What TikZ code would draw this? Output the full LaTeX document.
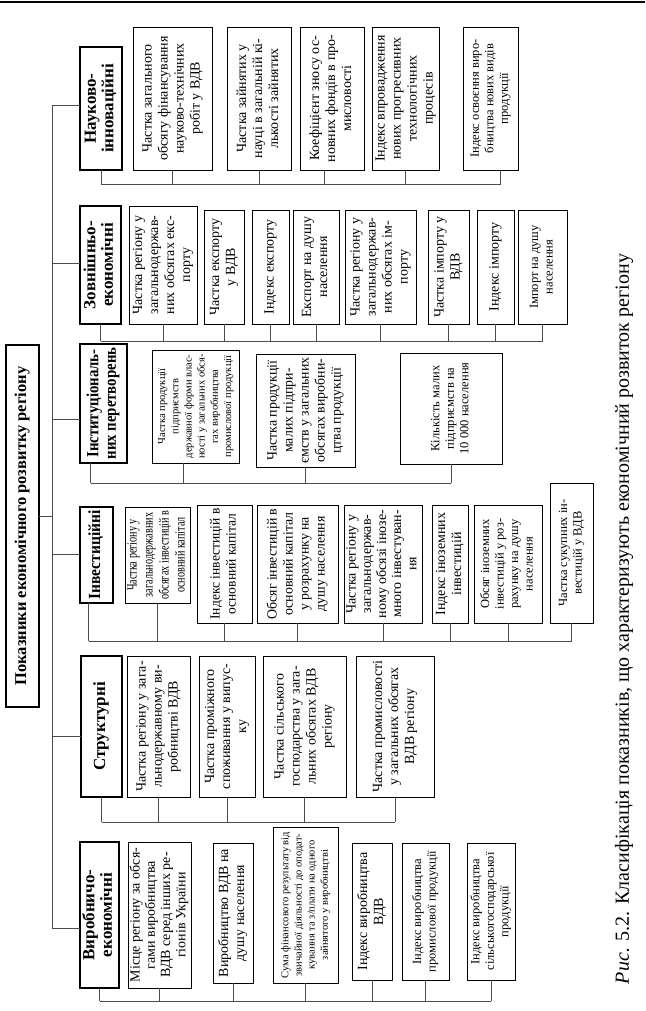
\documentclass[tikz,border=0pt]{standalone}
\usepackage{fontspec}
\setmainfont{Liberation Serif}
\usepackage{graphicx}
\newsavebox\fitsbox
\newcommand\fitto[2]{\sbox\fitsbox{#2}\ifdim\wd\fitsbox>#1\relax\resizebox{#1}{\height}{\usebox\fitsbox}\else\usebox\fitsbox\fi}
\newcommand\fnorm{\fontsize{14}{16}\selectfont}
\newcommand\fnormt{\fontsize{14}{15.2}\selectfont}
\newcommand\fsmall{\fontsize{12.5}{14.5}\selectfont}
\newcommand\ftiny{\fontsize{10.5}{13.2}\selectfont}
\newcommand\fcat{\fontsize{17}{17.5}\selectfont\bfseries}
\newcommand\fmain{\fontsize{16.5}{18}\selectfont\bfseries}
\newcommand\fcap{\fontsize{20}{22}\selectfont}
\newcommand\bx[8]{\node[#6, rotate=90, minimum width={#5pt-#3pt}, minimum height={#4pt-#2pt}] (#1) at ({(#2+#4)/2},{(#3+#5)/2}) {\fitto{\dimexpr #5pt-#3pt-7pt\relax}{#7\begin{tabular}{@{}c@{}}#8\end{tabular}}};}
\tikzset{
  box/.style={draw=black, line width=0.9pt, inner sep=0pt, outer sep=0pt},
  catbox/.style={box, line width=1.1pt},
  mainbox/.style={box, line width=1.3pt},
  conn/.style={draw=black!70, line width=1pt},
}
\begin{document}
\begin{tikzpicture}[x=1pt, y=-1pt]
\useasboundingbox (0,0) rectangle (645,1011);
\draw[line width=2.5pt] (0,2) -- (645,2);
% main
\bx{main}{6}{345}{39}{707}{mainbox}{\fmain}{Показники економічного розвитку регіону}
% group 1
\bx{cat1}{80}{47}{122}{170}{catbox}{\fcat}{Науково-\\інноваційні}
\bx{c11}{133}{27}{212}{170}{box}{\fnorm}{Частка загального\\обсягу фінансування\\науково-технічних\\робіт у ВДВ}
\bx{c12}{227}{27}{291}{170}{box}{\fnorm}{Частка зайнятих у\\науці в загальній кі-\\лькості зайнятих}
\bx{c13}{300}{27}{364}{170}{box}{\fnorm}{Коефіцієнт зносу ос-\\новних фондів в про-\\мисловості}
\bx{c14}{372}{27}{439}{170}{box}{\fnorm}{Індекс впровадження\\нових прогресивних\\технологічних\\процесів}
\bx{c15}{463}{27}{518}{170}{box}{\fsmall}{Індекс освоєння виро-\\бництва нових видів\\продукції}
% group 2
\bx{cat2}{80}{206}{121}{324}{catbox}{\fcat}{Зовнішньо-\\економічні}
\bx{c21}{129}{206}{197}{324}{box}{\fnorm}{Частка регіону у\\загальнодержав-\\них обсягах екс-\\порту}
\bx{c22}{204}{210}{244}{324}{box}{\fnorm}{Частка експорту\\у ВДВ}
\bx{c23}{252}{210}{289}{324}{box}{\fnorm}{Індекс експорту}
\bx{c24}{293}{210}{339}{324}{box}{\fnorm}{Експорт на душу\\населення}
\bx{c25}{345}{210}{416}{324}{box}{\fnorm}{Частка регіону у\\загальнодержав-\\них обсягах ім-\\порту}
\bx{c26}{428}{210}{469}{324}{box}{\fnorm}{Частка імпорту у\\ВДВ}
\bx{c27}{477}{210}{514}{324}{box}{\fnorm}{Індекс імпорту}
\bx{c28}{518}{210}{567}{324}{box}{\fsmall}{Імпорт на душу\\населення}
% group 3
\bx{cat3}{80}{344}{127}{463}{catbox}{\fcat}{Інституціональ-\\них перетворень}
\bx{c31}{152}{350}{239}{463}{box}{\ftiny}{Частка продукції\\підприємств\\державної форми влас-\\ності у загальних обся-\\гах виробництва\\промислової продукції}
\bx{c32}{256}{354}{355}{467}{box}{\fnorm}{Частка продукції\\малих підпри-\\ємств у загальних\\обсягах виробни-\\цтва продукції}
\bx{c33}{400}{353}{502}{464}{box}{\fsmall}{Кількість малих\\підприємств на\\10~000 населення}
% group 4
\bx{cat4}{80}{507}{113}{603}{catbox}{\fcat}{Інвестиційні}
\bx{c41}{125}{507}{190}{603}{box}{\fnorm}{Частка регіону у\\загальнодержавних\\обсягах інвестицій в\\основний капітал}
\bx{c42}{197}{505}{252}{623}{box}{\fnorm}{Індекс інвестицій в\\основний капітал}
\bx{c43}{257}{505}{338}{623}{box}{\fnorm}{Обсяг інвестицій в\\основний капітал\\у розрахунку на\\душу населення}
\bx{c44}{344}{505}{422}{623}{box}{\fnormt}{Частка регіону у\\загальнодержав-\\ному обсязі інозе-\\много інвестуван-\\ня}
\bx{c45}{432}{505}{468}{623}{box}{\fnorm}{Індекс іноземних\\інвестицій}
\bx{c46}{474}{505}{542}{623}{box}{\fsmall}{Обсяг іноземних\\інвестицій у роз-\\рахунку на душу\\населення}
\bx{c47}{550}{483}{593}{623}{box}{\fsmall}{Частка сукупних ін-\\вестицій у ВДВ}
% group 5
\bx{cat5}{81}{656}{122}{797}{catbox}{\fcat}{Структурні}
\bx{c51}{127}{656}{190}{797}{box}{\fnorm}{Частка регіону у зага-\\льнодержавному ви-\\робництві ВДВ}
\bx{c52}{199}{656}{255}{797}{box}{\fnorm}{Частка проміжного\\споживання у випус-\\ку}
\bx{c53}{263}{656}{346}{797}{box}{\fnorm}{Частка сільського\\господарства у зага-\\льних обсягах ВДВ\\регіону}
\bx{c54}{356}{656}{434}{797}{box}{\fnorm}{Частка промисловості\\у загальних обсягах\\ВДВ регіону}
% group 6
\bx{cat6}{80}{842}{119}{988}{catbox}{\fcat}{Виробничо-\\економічні}
\bx{c61}{128}{842}{191}{988}{box}{\fnormt}{Місце регіону за обся-\\гами виробництва\\ВДВ серед інших ре-\\гіонів України}
\bx{c62}{213}{843}{253}{983}{box}{\fnorm}{Виробництво ВДВ на\\душу населення}
\bx{c63}{273}{827}{338}{983}{box}{\ftiny}{Сума фінансового результату від\\звичайної діяльності до оподат-\\кування та з/плати на одного\\зайнятого у виробництві}
\bx{c64}{352}{843}{392}{980}{box}{\fnorm}{Індекс виробництва\\ВДВ}
\bx{c65}{402}{843}{449}{980}{box}{\fsmall}{Індекс виробництва\\промислової продукції}
\bx{c66}{467}{843}{515}{980}{box}{\fsmall}{Індекс виробництва\\сільськогосподарської\\продукції}
% caption
\node[rotate=90, font=\fcap, inner sep=0pt] (cap) at (624,619) {\textit{Рис.} 5.2. Класифікація показників, що характеризують економічний розвиток регіону};
% spine
\coordinate (b0) at (52,516);
\coordinate (b1) at (52,106);
\coordinate (b2) at (52,263);
\coordinate (b3) at (52,419);
\coordinate (b4) at (52,554);
\coordinate (b5) at (52,736);
\coordinate (b6) at (52,928);
\draw[conn] (b1) -- (b6);
\draw[conn] (main.south |- b0) -- (b0);
\foreach \i in {1,...,6} {\draw[conn] (b\i) -- (b\i -| cat\i.north);}
% buses
\coordinate (bus1) at (0,185);
\coordinate (bus2) at (0,341);
\coordinate (bus3) at (0,483);
\coordinate (bus4) at (0,641);
\coordinate (bus5) at (0,822);
\coordinate (bus6) at (0,1001);
% group 1
\foreach \n in {cat1,c11,c12,c14} {\draw[conn] (\n.west) -- (\n.west |- bus1);}
\draw[conn] ([xshift=-8pt]c13.west) -- ([xshift=-8pt]c13.west |- bus1);
\draw[conn] ([xshift=10pt]c15.west) -- ([xshift=10pt]c15.west |- bus1);
\draw[conn] (cat1.west |- bus1) -- ([xshift=10pt]c15.west |- bus1);
% group 2
\foreach \n in {cat2,c21,c22,c23,c24,c25,c26,c27,c28} {\draw[conn] (\n.west) -- (\n.west |- bus2);}
\draw[conn] (cat2.west |- bus2) -- (c28.west |- bus2);
% group 3
\draw[conn] ([xshift=-13pt]cat3.west) -- ([xshift=-13pt]cat3.west |- bus3);
\draw[conn] ([xshift=-12pt]c31.west) -- ([xshift=-12pt]c31.west |- bus3);
\foreach \n in {c32,c33} {\draw[conn] (\n.west) -- (\n.west |- bus3);}
\draw[conn] ([xshift=-13pt]cat3.west |- bus3) -- (c33.west |- bus3);
% group 4
\draw[conn] ([xshift=-8pt]cat4.west) -- ([xshift=-8pt]cat4.west |- bus4);
\foreach \n in {c41,c42,c43,c44,c45,c46,c47} {\draw[conn] (\n.west) -- (\n.west |- bus4);}
\draw[conn] ([xshift=-8pt]cat4.west |- bus4) -- (c47.west |- bus4);
% group 5
\foreach \n in {cat5,c51,c52,c53,c54} {\draw[conn] (\n.west) -- (\n.west |- bus5);}
\draw[conn] (cat5.west |- bus5) -- (c54.west |- bus5);
% group 6
\foreach \n in {cat6,c61,c62,c63,c64,c65,c66} {\draw[conn] (\n.west) -- (\n.west |- bus6);}
\draw[conn] (cat6.west |- bus6) -- (c66.west |- bus6);
\end{tikzpicture}
\end{document}
